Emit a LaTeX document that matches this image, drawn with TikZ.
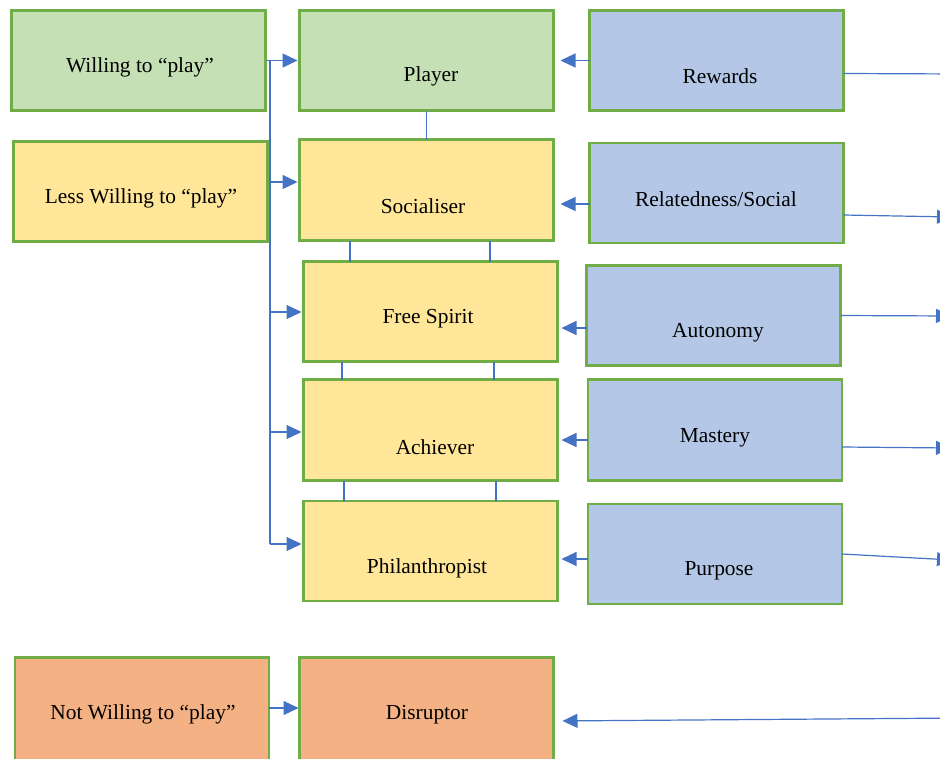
\documentclass[tikz,border=0pt]{standalone}
\usepackage{fontspec}
\setmainfont{Liberation Serif}
\usetikzlibrary{arrows.meta}
\definecolor{gfill}{HTML}{C5E0B4}
\definecolor{bfill}{HTML}{B4C7E7}
\definecolor{yfill}{HTML}{FFE699}
\definecolor{ofill}{HTML}{F4B183}
\definecolor{edge}{HTML}{70AD47}
\definecolor{link}{HTML}{4472C4}
\begin{document}
\begin{tikzpicture}[x=1pt,y=-1pt,
  box/.style={draw=edge,line width=2.6pt,minimum width=254pt,minimum height=100pt,inner sep=0pt,outer sep=0pt},
  lbl/.style={font=\fontsize{21.4}{25}\selectfont,inner sep=0pt,yshift=-2.5pt},
  con/.style={draw=link,line width=1.2pt},
  arr/.style={con,-{Triangle[length=15pt,width=14pt]}}]
\useasboundingbox (0,0) rectangle (940,758);
\clip (0,0) rectangle (940,758);
\fill[white] (0,0) rectangle (940,758);

% left column: willingness
\node[box,fill=gfill,label={[lbl,xshift=1.5pt,yshift=-4.5pt]center:Willing to “play”}] (will) at (138.5,60.5) {};
\node[box,fill=yfill,label={[lbl,xshift=0.5pt,yshift=-4.5pt]center:Less Willing to “play”}] (less) at (140.5,191.5) {};
\node[box,fill=ofill,minimum height=111pt,label={[lbl,xshift=1pt,yshift=1pt]center:Not Willing to “play”}] (notw) at (142,713) {};

% middle column: player types
\node[box,fill=gfill,label={[lbl,xshift=4.5pt,yshift=-13.5pt]center:Player}] (player) at (426.5,60.5) {};
\node[box,fill=yfill,minimum height=101pt,label={[lbl,xshift=-3.5pt,yshift=-14pt]center:Socialiser}] (soc) at (426.5,190) {};
\node[box,fill=yfill,label={[lbl,xshift=-2.5pt,yshift=-4.5pt]center:Free Spirit}] (fs) at (430.5,311.5) {};
\node[box,fill=yfill,minimum height=101pt,label={[lbl,xshift=4.5pt,yshift=-15pt]center:Achiever}] (ach) at (430.5,430) {};
\node[box,fill=yfill,label={[lbl,xshift=-3.5pt,yshift=-15pt]center:Philanthropist}] (phil) at (430.5,551) {};
\node[box,fill=ofill,minimum height=111pt,label={[lbl,xshift=0.5pt,yshift=1pt]center:Disruptor}] (dis) at (426.5,713) {};

% right column: motivations
\node[box,fill=bfill,label={[lbl,xshift=3.5pt,yshift=-13.5pt]center:Rewards}] (rew) at (716.5,60.5) {};
\node[box,fill=bfill,label={[lbl,xshift=-0.5pt,yshift=-4pt]center:Relatedness/Social}] (rel) at (716.5,193) {};
\node[box,fill=bfill,label={[lbl,xshift=4.5pt,yshift=-14.5pt]center:Autonomy}] (aut) at (713.5,315.5) {};
\node[box,fill=bfill,minimum height=101pt,label={[lbl,yshift=-5pt]center:Mastery}] (mas) at (715,430) {};
\node[box,fill=bfill,label={[lbl,xshift=4pt,yshift=-14pt]center:Purpose}] (pur) at (715,554) {};

% trunk from "Willing" down the left side
\coordinate (t0) at (270,61);
\coordinate (t1) at (270,182);
\coordinate (t2) at (270,312);
\coordinate (t3) at (270,432);
\coordinate (t4) at (270,544);
\draw[arr,shorten >=2pt] (will.east) -- (player.west);
\draw[con] (t0) -- (t4);
\draw[arr,shorten >=2pt] (t1) -- (soc.west |- t1);
\draw[arr,shorten >=2pt] (t2) -- (fs.west |- t2);
\draw[arr,shorten >=2pt] (t3) -- (ach.west |- t3);
\draw[arr,shorten >=2pt] (t4) -- (phil.west |- t4);
\draw[arr,shorten >=1pt] ([yshift=5pt]notw.east) -- ([yshift=5pt]dis.west);

% links between the player types
\draw[con] (player.south) -- (soc.north);
\draw[con] ([xshift=-76.5pt]soc.south) -- ([xshift=-80.5pt]fs.north);
\draw[con] ([xshift=63.5pt]soc.south) -- ([xshift=59.5pt]fs.north);
\draw[con] ([xshift=-88.5pt]fs.south) -- ([xshift=-88.5pt]ach.north);
\draw[con] ([xshift=63.5pt]fs.south) -- ([xshift=63.5pt]ach.north);
\draw[con] ([xshift=-86.5pt]ach.south) -- ([xshift=-86.5pt]phil.north);
\draw[con] ([xshift=65.5pt]ach.south) -- ([xshift=65.5pt]phil.north);

% motivations feeding the player types
\draw[arr,shorten >=7pt] (rew.west) -- (player.east);
\draw[arr,shorten >=7pt] ([yshift=-11pt]rel.west) -- ([yshift=-14pt]soc.east);
\draw[arr,shorten >=4pt] ([yshift=-12.5pt]aut.west) -- ([yshift=-16.5pt]fs.east);
\draw[arr,shorten >=4pt] ([yshift=-10pt]mas.west) -- ([yshift=-10pt]ach.east);
\draw[arr,shorten >=4pt] ([yshift=-5pt]pur.west) -- ([yshift=-8pt]phil.east);

% links leaving to the right
\coordinate (o1) at (962,74);
\coordinate (o2) at (952,217);
\coordinate (o3) at (951,316);
\coordinate (o4) at (951,448);
\coordinate (o5) at (952,560);
\coordinate (o6) at (962,718);
\draw[arr] ([yshift=-13pt]rew.east) -- (o1);
\draw[arr] ([yshift=-22pt]rel.east) -- (o2);
\draw[arr] (aut.east) -- (o3);
\draw[arr] ([yshift=-17pt]mas.east) -- (o4);
\draw[arr] (pur.east) -- (o5);
\draw[arr,shorten >=9pt] (o6) -- ([yshift=-8pt]dis.east);
\end{tikzpicture}
\end{document}
